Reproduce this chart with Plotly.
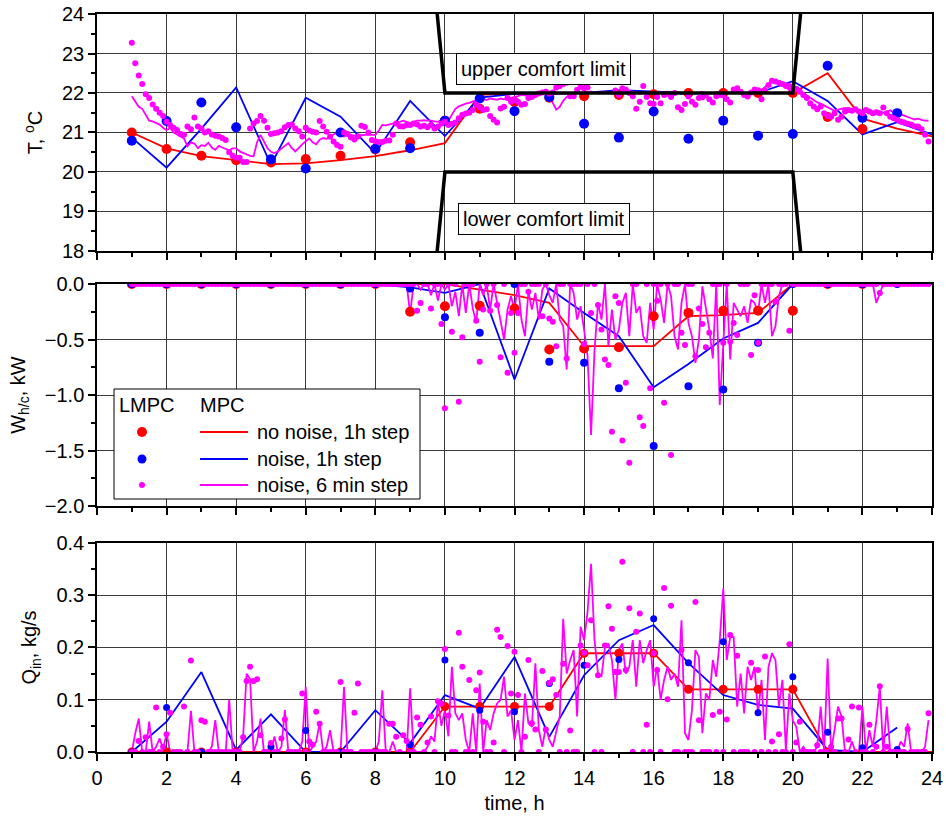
import plotly.graph_objects as go

# ---------------- time grids ----------------
hours = list(range(1, 25))                      # 1 h steps
t6 = [round(k / 10, 1) for k in range(10, 240)]  # 6 min steps, 1.0 .. 23.9

# ---------------- TOP: temperature, degC ----------------
T_lmpc_nn = [21.0, 20.58, 20.41, 20.30, 20.24, 20.33, 20.41, 20.57, 20.75, 21.3, 21.6,
             21.77, 21.88, 21.92, 21.95, 21.97, 22.0, 22.0, 22.0, 22.0, 21.39, 21.09]
T_lmpc_n = [20.79, 21.29, 21.76, 21.13, 20.32, 20.09, 21.0, 20.59, 20.6, 21.3, 21.86, 21.54,
            21.9, 21.22, 20.87, 21.53, 20.84, 21.3, 20.92, 20.96, 22.69, 21.37, 21.49]
T_mpc_nn = [21.0, 20.6, 20.4, 20.3, 20.2, 20.22, 20.3, 20.4, 20.55, 20.73, 21.95, 22.0,
            22.0, 22.0, 22.0, 22.0, 22.0, 22.0, 22.0, 22.0, 22.5, 21.35, 21.1, 20.9]
T_mpc_n = [20.87, 20.11, 21.1, 22.14, 20.18, 21.88, 21.4, 20.47, 21.8, 20.91, 21.88, 21.98,
           21.98, 22.0, 22.07, 22.03, 22.0, 22.0, 22.0, 22.3, 21.8, 20.95, 21.26, 20.95]
T_mpc6 = [
    21.92, 21.8, 21.65, 21.6, 21.45, 21.3, 21.28, 21.23, 21.2, 21.12,
    21.06, 21.12, 21.0, 20.95, 20.9, 20.85, 20.65, 20.75, 20.72, 20.6,
    20.68, 20.66, 20.74, 20.62, 20.56, 20.66, 20.62, 20.58, 20.55, 20.6,
    20.6, 20.52, 20.48, 20.45, 20.41, 20.4, 20.75, 20.94, 20.78, 20.6,
    20.51, 20.48, 20.52, 20.6, 20.66, 20.73, 20.6, 20.52, 20.62, 20.7,
    20.78, 20.85, 20.75, 20.7, 20.82, 20.86, 20.84, 20.88, 20.95, 21.0,
    20.92, 20.9, 20.95, 20.93, 20.92, 20.95, 20.93, 20.94, 20.94, 20.95,
    20.94, 21.05, 21.19, 21.18, 21.2, 21.22, 21.24, 21.27, 21.3, 21.26,
    21.24, 21.27, 21.3, 21.3, 21.31, 21.3, 21.3, 21.28, 21.27, 21.32,
    21.36, 21.3, 21.45, 21.6, 21.66, 21.7, 21.73, 21.75, 21.78, 21.82,
    21.88, 21.84, 21.82, 21.86, 21.85, 21.83, 21.86, 21.84, 21.86, 21.88,
    21.89, 21.92, 21.95, 21.93, 21.92, 21.95, 21.97, 21.98, 22.02, 22.08,
    21.92, 21.75, 21.58, 21.65, 21.8, 21.9, 21.96, 22.0, 22.03, 22.02,
    22.0, 22.02, 22.04, 22.01, 21.99, 22.02, 22.03, 22.0, 21.98, 22.01,
    22.03, 22.05, 22.02, 22.0, 22.03, 22.01, 21.98, 22.0, 22.02, 22.0,
    21.99, 22.01, 22.03, 22.0, 21.98, 22.0, 22.02, 22.01, 21.98, 22.0,
    22.02, 22.0, 21.98, 22.01, 22.03, 22.0, 21.98, 22.0, 22.02, 22.03,
    22.04, 22.02, 22.0, 22.01, 22.03, 22.0, 21.99, 22.02, 22.03, 22.05,
    22.04, 22.08, 22.15, 22.25, 22.29, 22.28, 22.27, 22.26, 22.25, 22.23,
    22.2, 22.12, 22.05, 22.0, 21.95, 21.88, 21.82, 21.76, 21.73, 21.68,
    21.64, 21.6, 21.55, 21.58, 21.6, 21.62, 21.6, 21.57, 21.56, 21.55,
    21.55, 21.52, 21.5, 21.48, 21.55, 21.52, 21.5, 21.53, 21.56, 21.5,
    21.39, 21.46, 21.42, 21.38, 21.36, 21.33, 21.35, 21.32, 21.3, 21.3]
T_lmpc6 = [
    23.27, 22.75, 22.44, 22.23, 21.97, 21.87, 21.71, 21.6, 21.5, 21.42,
    21.27, 21.19, 21.12, 21.06, 20.96, 20.94, 21.15, 21.08, 21.38, 21.15,
    21.1, 21.0, 21.03, 20.95, 20.92, 20.9, 20.86, 20.81, 20.5, 20.41,
    20.36, 20.36, 20.25, 20.25, 21.1, 21.23, 21.29, 21.42, 21.3, 21.12,
    20.96, 20.98, 21.0, 21.03, 21.13, 21.19, 21.2, 21.1, 21.03, 20.9,
    21.12, 21.05, 21.02, 21.0, 21.29, 21.15, 21.02, 20.89, 20.77, 20.68,
    20.64, 21.0, 20.96, 20.87, 20.82, 20.9, 21.17, 21.14, 21.0, 20.81,
    20.78, 20.76, 20.76, 20.79, 20.8, 20.94, 21.23, 21.16, 21.15, 21.19,
    21.19, 21.23, 21.2, 21.15, 21.17, 21.13, 21.19, 21.1, 21.15, 21.23,
    21.27, 21.19, 21.22, 21.25, 21.36, 21.45, 21.48, 21.5, 21.57, 21.7,
    21.64, 21.57, 21.59, 21.42, 21.32, 21.25, 21.61, 21.65, 21.87, 21.78,
    21.82, 21.78, 21.7, 21.72, 21.87, 21.9, 21.95, 21.99, 22.01, 22.03,
    21.99, 22.01, 22.14, 22.18, 22.23, 22.26, 21.92, 21.92, 22.08, 22.16,
    22.12, 22.14, 22.31, 22.48, 22.41, 22.33, 22.37, 22.45, 22.31, 22.06,
    21.95, 22.12, 22.08, 22.0, 21.92, 21.6, 21.78, 22.18, 21.9, 21.74,
    21.72, 21.9, 21.74, 21.95, 21.98, 21.9, 22.0, 21.64, 21.57, 21.72,
    21.91, 21.78, 21.7, 21.87, 21.89, 21.95, 21.84, 21.76, 21.92, 21.95,
    21.95, 21.84, 21.76, 22.09, 22.12, 22.03, 21.95, 21.91, 22.01, 22.09,
    22.07, 21.84, 22.07, 22.2, 22.31, 22.29, 22.26, 22.23, 22.18, 22.14,
    22.07, 22.11, 22.03, 21.95, 21.87, 21.74, 21.66, 21.59, 21.66, 21.49,
    21.42, 21.4, 21.49, 21.32, 21.4, 21.53, 21.57, 21.55, 21.59, 21.53,
    21.49, 21.57, 21.53, 21.49, 21.51, 21.49, 21.63, 21.49, 21.4, 21.36,
    21.32, 21.28, 21.25, 21.22, 21.2, 21.16, 21.15, 21.08, 20.94, 20.77]
limit_t = [9.5, 10, 20, 20.5]
T_upper = [26.5, 22, 22, 26.5]
T_lower = [15.5, 20, 20, 15.5]

# ---------------- MIDDLE: heating/cooling power, kW ----------------
W_lmpc_nn = [0, 0, 0, 0, 0, 0, 0, 0, -0.25, -0.2, -0.195, -0.22, -0.59, -0.58, -0.57,
             -0.29, -0.26, -0.24, -0.24, -0.24, 0, 0]
W_lmpc_n = [0, 0, 0, 0, 0, 0, 0, 0, -0.04, -0.3, -0.44, 0, -0.7, -0.71, -0.94, -1.46,
            -0.92, -0.95, -0.53, 0, 0, 0, 0]
W_mpc_nn = [0, 0, 0, 0, 0, 0, 0, 0, 0, 0, -0.05, -0.1, -0.17, -0.56, -0.56, -0.56,
            -0.29, -0.28, -0.26, 0, 0, 0, 0, 0]
W_mpc_n = [0, 0, 0, 0, 0, 0, 0, 0, -0.03, -0.08, 0, -0.86, -0.04, -0.26, -0.47, -0.93,
           -0.72, -0.49, -0.35, 0, 0, 0, 0, 0]
W_mpc6 = [0] * 80 + [
    -0.27, 0, 0, -0.05, 0, 0, -0.1, 0, -0.15, 0,
    -0.05, 0, -0.2, -0.07, -0.29, 0, -0.26, 0, -0.22, -0.35,
    0, -0.1, 0, -0.23, 0, -0.17, -0.35, -0.5, -0.23, -0.11,
    -0.23, 0, -0.32, -0.47, -0.07, -0.23, -0.08, -0.32, -0.05, 0,
    -0.1, -0.17, 0, -0.32, -0.38, -0.77, 0, -0.08, -0.32, -0.2,
    -0.41, -0.65, -1.36, -0.6, -0.17, -0.32, 0, -0.56, -0.23, -0.5,
    -0.41, -0.17, -0.08, -0.47, 0, -0.26, -0.2, -0.47, -0.53, -0.17,
    -0.41, 0, -0.14, -0.35, 0, -0.11, -0.47, -0.59, -0.17, 0,
    -0.35, -0.47, -0.71, -0.5, -0.02, -0.23, -0.41, -0.67, 0, -1.09,
    -0.5, 0, -0.68, -0.17, -0.23, -0.29, -0.2, -0.35, -0.14, -0.17,
    -0.26, 0, -0.17, 0, -0.47, -0.38, -0.11, 0, 0, 0,
    0, 0, 0, 0, 0, 0, 0, 0, 0, 0,
    0, 0, 0, 0, 0, 0, 0, 0, 0, 0,
    0, 0, 0, 0, -0.17, -0.08, 0, 0, 0, 0,
    0, 0, 0, 0, 0, 0, 0, 0, 0, 0]
W_lmpc6 = [0] * 80 + [
    0, 0, -0.24, -0.17, 0, 0, -0.22, 0, 0, -0.36,
    -1.12, 0, -0.43, 0, -1.06, -0.48, 0, 0, 0, -0.33,
    -0.7, -0.23, 0, -0.24, 0, -0.19, -0.66, 0, -0.8, -0.26,
    -0.62, -0.26, 0, 0, -0.07, 0, 0, 0, -0.29, 0,
    -0.31, -0.34, -0.56, 0, 0, -0.67, 0, 0, 0, 0,
    -0.54, 0, -0.26, 0, -0.19, -0.41, -0.68, -0.73, -1.33, -0.11,
    -0.17, -1.41, -0.89, -1.61, 0, 0, -1.2, -1.28, 0, -0.94,
    0, -0.15, 0, -1.07, 0, -1.54, 0, 0, -0.44, -0.55,
    0, 0, -0.65, -0.22, -0.36, -0.57, -0.44, 0, 0, 0,
    -0.53, 0, -0.52, -0.35, -0.46, 0, 0, 0, -0.64, -0.1,
    -0.53, 0, 0, 0, 0, -0.16, 0, 0, 0, -0.42,
    0, 0, 0, 0, 0, 0, 0, 0, 0, 0,
    0, 0, 0, 0, 0, 0, 0, 0, 0, 0,
    0, 0, 0, 0, 0, -0.08, 0, 0, 0, 0,
    0, 0, 0, 0, 0, 0, 0, 0, 0, 0]

# ---------------- BOTTOM: air flow, kg/s ----------------
Q_lmpc_nn = [0, 0, 0, 0, 0, 0, 0, 0, 0, 0.087, 0.087, 0.087, 0.087, 0.189, 0.189, 0.189,
             0.12, 0.12, 0.12, 0.12, 0, 0]
Q_lmpc_n = [0, 0.085, 0, 0, 0.01, 0.041, 0, 0, 0.014, 0.176, 0.08, 0.077, 0.131, 0.166,
            0.177, 0.255, 0.171, 0.211, 0.075, 0.144, 0.038, 0.008, 0.005]
Q_mpc_nn = [0, 0, 0, 0, 0, 0, 0, 0, 0, 0.087, 0.087, 0.087, 0.087, 0.189, 0.189, 0.189,
            0.12, 0.12, 0.12, 0.12, 0, 0, 0, 0]
Q_mpc_n = [0, 0.058, 0.153, 0.004, 0.072, 0, 0, 0.08, 0.017, 0.109, 0.083, 0.182, 0.029,
           0.147, 0.214, 0.243, 0.17, 0.109, 0.09, 0.083, 0.004, 0, 0.047]
Q_mpc6 = [
    0, 0.036, 0.064, 0, 0, 0.058, 0, 0.01, 0.026, 0.005,
    0.036, 0, 0, 0, 0, 0, 0, 0.079, 0, 0,
    0, 0, 0, 0.01, 0.061, 0, 0, 0, 0.1, 0,
    0, 0, 0.03, 0.15, 0.14, 0, 0.02, 0.064, 0, 0,
    0, 0.03, 0, 0.01, 0.08, 0, 0, 0, 0, 0.02,
    0.125, 0, 0.01, 0.02, 0.056, 0, 0.01, 0.042, 0, 0,
    0, 0.125, 0, 0, 0, 0, 0, 0, 0, 0,
    0, 0.02, 0.118, 0, 0, 0.02, 0, 0, 0, 0,
    0.122, 0, 0, 0, 0, 0.01, 0.03, 0.02, 0.096, 0.05,
    0.08, 0.03, 0.163, 0.074, 0.061, 0.074, 0.023, 0, 0.074, 0,
    0.131, 0, 0.061, 0.042, 0.074, 0.093, 0.1, 0.144, 0.068, 0.08,
    0.023, 0.061, 0, 0.112, 0.055, 0.048, 0.17, 0.042, 0.01, 0.048,
    0.023, 0.01, 0.042, 0.068, 0.255, 0.15, 0.176, 0.195, 0.068, 0.24,
    0.214, 0.268, 0.36, 0.214, 0.15, 0.144, 0.2, 0.208, 0.176, 0.1,
    0.195, 0.208, 0.15, 0.163, 0.214, 0.125, 0.214, 0.17, 0.195, 0.214,
    0.125, 0.163, 0.1, 0.138, 0.163, 0.138, 0.15, 0.125, 0.252, 0.036,
    0.023, 0.08, 0.195, 0.182, 0.036, 0.112, 0.1, 0.176, 0.144, 0.214,
    0.313, 0.176, 0.22, 0.22, 0.087, 0.15, 0.074, 0.163, 0.138, 0.163,
    0.074, 0.138, 0.023, 0.163, 0.189, 0.176, 0.087, 0.138, 0.004, 0.112,
    0.06, 0.048, 0, 0.01, 0, 0, 0, 0.01, 0.087, 0,
    0.179, 0, 0.048, 0.087, 0.068, 0, 0, 0.02, 0, 0,
    0.087, 0, 0.042, 0.01, 0.06, 0.125, 0, 0.087, 0, 0,
    0, 0.02, 0.01, 0.055, 0, 0, 0, 0, 0.01, 0.061]
Q_lmpc6 = [
    0, 0, 0.021, 0, 0.028, 0, 0, 0.085, 0, 0.01,
    0.034, 0.075, 0, 0, 0, 0.087, 0, 0.175, 0, 0,
    0.061, 0.058, 0, 0, 0, 0, 0, 0, 0, 0,
    0, 0, 0.028, 0.136, 0.163, 0.136, 0.139, 0.032, 0, 0,
    0.017, 0, 0, 0.026, 0.062, 0, 0, 0, 0, 0.112,
    0, 0.02, 0.014, 0.077, 0.054, 0, 0, 0, 0, 0,
    0.134, 0, 0, 0, 0.075, 0.131, 0, 0, 0, 0,
    0, 0, 0, 0, 0.054, 0.054, 0.029, 0, 0.032, 0.021,
    0, 0, 0.066, 0.052, 0, 0.018, 0.068, 0, 0.097, 0.093,
    0.197, 0.07, 0, 0, 0.228, 0.163, 0, 0.138, 0, 0.118,
    0.152, 0.058, 0, 0, 0.018, 0.234, 0.22, 0, 0.203, 0.112,
    0.192, 0.109, 0, 0.029, 0.176, 0.055, 0.043, 0, 0.155, 0.043,
    0.132, 0.139, 0.109, 0, 0.169, 0, 0.041, 0, 0, 0.204,
    0.19, 0.166, 0.252, 0, 0.147, 0, 0.204, 0.279, 0.236, 0.153,
    0.153, 0.364, 0.157, 0.275, 0, 0.23, 0.265, 0, 0.052, 0,
    0.189, 0.157, 0, 0.314, 0.101, 0.28, 0, 0, 0.195, 0,
    0, 0, 0.287, 0.061, 0, 0, 0, 0.071, 0, 0.077,
    0, 0.062, 0.224, 0, 0.184, 0, 0, 0, 0.171, 0,
    0.157, 0, 0.183, 0, 0.02, 0, 0.034, 0, 0, 0.206,
    0, 0.018, 0.058, 0, 0, 0, 0, 0.013, 0, 0,
    0, 0.01, 0, 0.064, 0.064, 0, 0.024, 0.087, 0, 0.085,
    0, 0, 0.052, 0, 0.01, 0.126, 0, 0.01, 0, 0,
    0, 0, 0, 0.044, 0, 0, 0, 0, 0, 0.074]

RED, BLUE, MAG = "#FF0000", "#0000FF", "#FF00FF"
FONT = "Liberation Sans, Arial, sans-serif"

fig = go.Figure()


def add_panel(xa, ya, mpc_nn, mpc_n, mpc6, lmpc_nn, lmpc_n, lmpc6, sizes):
    fig.add_trace(go.Scatter(x=hours[:len(mpc_nn)], y=mpc_nn, mode="lines",
                             line=dict(color=RED, width=1.8), xaxis=xa, yaxis=ya))
    fig.add_trace(go.Scatter(x=hours[:len(mpc_n)], y=mpc_n, mode="lines",
                             line=dict(color=BLUE, width=1.8), xaxis=xa, yaxis=ya))
    fig.add_trace(go.Scatter(x=t6[:len(mpc6)], y=mpc6, mode="lines",
                             line=dict(color=MAG, width=1.8), xaxis=xa, yaxis=ya))
    fig.add_trace(go.Scatter(x=hours[:len(lmpc_nn)], y=lmpc_nn, mode="markers",
                             marker=dict(color=RED, size=sizes[0]), xaxis=xa, yaxis=ya))
    fig.add_trace(go.Scatter(x=hours[:len(lmpc_n)], y=lmpc_n, mode="markers",
                             marker=dict(color=BLUE, size=sizes[1]), xaxis=xa, yaxis=ya))
    fig.add_trace(go.Scatter(x=t6[:len(lmpc6)], y=lmpc6, mode="markers",
                             marker=dict(color=MAG, size=sizes[2]), xaxis=xa, yaxis=ya))


add_panel("x", "y", T_mpc_nn, T_mpc_n, T_mpc6, T_lmpc_nn, T_lmpc_n, T_lmpc6, (10, 10, 6))
fig.add_trace(go.Scatter(x=limit_t, y=T_upper, mode="lines", line=dict(color="black", width=3.5),
                         xaxis="x", yaxis="y"))
fig.add_trace(go.Scatter(x=limit_t, y=T_lower, mode="lines", line=dict(color="black", width=3.5),
                         xaxis="x", yaxis="y"))
add_panel("x2", "y2", W_mpc_nn, W_mpc_n, W_mpc6, W_lmpc_nn, W_lmpc_n, W_lmpc6, (10, 8, 6))
add_panel("x3", "y3", Q_mpc_nn, Q_mpc_n, Q_mpc6, Q_lmpc_nn, Q_lmpc_n, Q_lmpc6, (9, 7, 6))

GRID = "#3a3a3a"
axis_common = dict(showgrid=True, gridcolor=GRID, gridwidth=1, showline=True, linecolor="black",
                   linewidth=1.5, mirror=True, ticks="outside", ticklen=7, tickwidth=1.5,
                   tickcolor="black", zeroline=False, automargin=False,
                   tickfont=dict(family=FONT, size=20, color="black"))


def xax(anchor, labels):
    d = dict(axis_common, range=[0, 24], tick0=0, dtick=2, anchor=anchor, domain=[0, 1],
             showticklabels=labels,
             minor=dict(dtick=1, ticks="outside", ticklen=4, tickwidth=1.5, tickcolor="black",
                        showgrid=False))
    return d


def yax(rng, dtick, minor, dom, anchor, title, fmt=None):
    d = dict(axis_common, range=rng, dtick=dtick, domain=dom, anchor=anchor,
             minor=dict(dtick=minor, ticks="outside", ticklen=4, tickwidth=1.5,
                        tickcolor="black", showgrid=False),
             title=dict(text=title, font=dict(family=FONT, size=20, color="black"), standoff=14))
    if fmt:
        d["tickformat"] = fmt
    return d


fig.update_layout(
    width=946, height=822,
    margin=dict(l=97, r=14, t=14, b=70, autoexpand=False),
    paper_bgcolor="white", plot_bgcolor="white",
    showlegend=False,
    font=dict(family=FONT, size=20, color="black"),
    xaxis=xax("y", False),
    xaxis2=xax("y2", False),
    xaxis3=dict(xax("y3", True),
                title=dict(text="time, h", font=dict(family=FONT, size=20, color="black"),
                           standoff=8)),
    yaxis=yax([18, 24], 1, 0.5, [0.6789, 1.0], "x", "T, <sup>o</sup>C"),
    yaxis2=yax([-2, 0], 0.5, 0.25, [0.3333, 0.6341], "x2", "W<sub>h/c</sub>, kW", ".1f"),
    yaxis3=yax([0, 0.4], 0.1, 0.05, [0.0, 0.2832], "x3", "Q<sub>in</sub>, kg/s", ".1f"),
)

# comfort-limit labels
for txt, yy in (("upper comfort limit", 0.9472), ("lower comfort limit", 0.7439)):
    fig.add_annotation(x=0.5348, y=yy, xref="paper", yref="paper", text=txt, showarrow=False,
                       font=dict(family=FONT, size=20, color="black"), bgcolor="white",
                       bordercolor="black", borderwidth=1, borderpad=4)

# custom legend (two columns: LMPC markers, MPC lines); positions in window pixels
def px_x(px):
    return (px - 97) / (932 - 97)


def px_y(py):
    return (752 - py) / 738


fig.add_shape(type="rect", xref="paper", yref="paper", x0=px_x(114), x1=px_x(420),
              y0=px_y(499), y1=px_y(389), line=dict(color="black", width=1),
              fillcolor="white", layer="above")
fig.add_annotation(x=px_x(117), y=px_y(405), xref="paper", yref="paper", text="LMPC",
                   xanchor="left", showarrow=False, font=dict(family=FONT, size=20))
fig.add_annotation(x=px_x(198), y=px_y(405), xref="paper", yref="paper", text="MPC",
                   xanchor="left", showarrow=False, font=dict(family=FONT, size=20))
rows = [(432, RED, 10, "no noise, 1h step"), (459, BLUE, 9, "noise, 1h step"),
        (485, MAG, 6, "noise, 6 min step")]
for py, col, sz, label in rows:
    r = sz / 2
    fig.add_shape(type="circle", xref="paper", yref="paper", xsizemode="pixel",
                  ysizemode="pixel", xanchor=px_x(142), yanchor=px_y(py),
                  x0=-r, x1=r, y0=-r, y1=r, fillcolor=col, line=dict(width=0), layer="above")
    fig.add_shape(type="line", xref="paper", yref="paper", x0=px_x(200), x1=px_x(248),
                  y0=px_y(py), y1=px_y(py), line=dict(color=col, width=1.8), layer="above")
    fig.add_annotation(x=px_x(255), y=px_y(py), xref="paper", yref="paper", text=label,
                       xanchor="left", showarrow=False, font=dict(family=FONT, size=20))

# remove the page's default 8 px body margin so the figure fills the window exactly
fig.write_html("out.html", config={"displayModeBar": False},
               post_script="document.body.style.margin='0px';")
